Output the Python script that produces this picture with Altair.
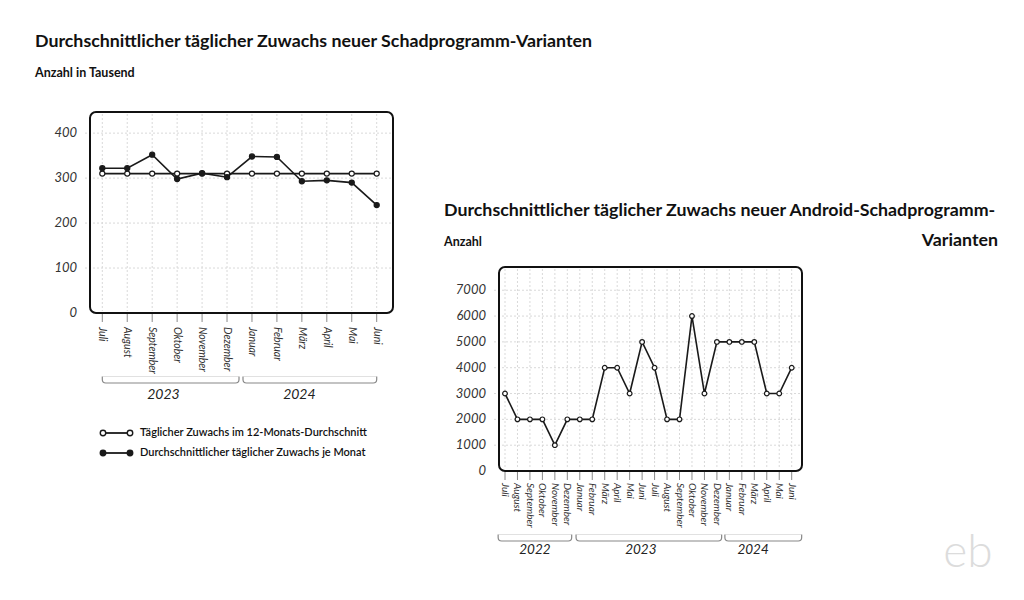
import altair as alt
import pandas as pd

FONT = "Lato"
INK = "#1a1a1a"
GRID = "#d9d9d9"
TICK = "#8a8a8a"

# ---------------- data: left chart (Anzahl in Tausend)
l_months = ["Juli", "August", "September", "Oktober", "November", "Dezember",
            "Januar", "Februar", "März", "April", "Mai", "Juni"]
l_monthly = [322, 322, 352, 298, 311, 302, 348, 347, 293, 295, 290, 240]
l_avg = [310, 310, 310, 310, 310, 310, 310, 310, 310, 310, 310, 310]
l_yticks = [0, 100, 200, 300, 400]
l_years = ["2023", "2024"]
l_year_start = [0.0, 5.64]
l_year_end = [5.48, 11.0]
l_year_label_at = [2.45, 7.9]

# ---------------- data: right chart (Anzahl)
r_months = ["Juli", "August", "September", "Oktober", "November", "Dezember",
            "Januar", "Februar", "März", "April", "Mai", "Juni",
            "Juli", "August", "September", "Oktober", "November", "Dezember",
            "Januar", "Februar", "März", "April", "Mai", "Juni"]
r_values = [3000, 2000, 2000, 2000, 1000, 2000, 2000, 2000, 4000, 4000, 3000, 5000,
            4000, 2000, 2000, 6000, 3000, 5000, 5000, 5000, 5000, 3000, 3000, 4000]
r_yticks = [0, 1000, 2000, 3000, 4000, 5000, 6000, 7000]
r_years = ["2022", "2023", "2024"]
r_year_start = [-0.55, 5.7, 17.64]
r_year_end = [5.35, 17.38, 23.8]
r_year_label_at = [2.4, 10.9, 19.9]

legend_labels = ["Täglicher Zuwachs im 12-Monats-Durchschnitt",
                 "Durchschnittlicher täglicher Zuwachs je Monat"]
legend_filled = [False, True]

ONE = pd.DataFrame({"a": [0]})


def panel(months, series, yticks, ydomain, frame, xrange, label_size, ylabel_x,
          label_y0, br_y, years, ystart, yend, ylab_at, year_y, year_size, pt_size):
    fx0, fx1, fy0, fy1 = frame
    n = len(months)
    df = pd.DataFrame({"i": list(range(n)), "m": months})
    xs = alt.Scale(domain=[0, n - 1], range=xrange, nice=False, zero=False)
    ys = alt.Scale(domain=ydomain, range=[fy1, fy0], nice=False, zero=False)
    dyt = pd.DataFrame({"v": yticks})
    dyr = pd.DataFrame({"y": years, "x0": ystart, "x1": yend, "xl": ylab_at})

    layers = []
    # vertical grid
    layers.append(alt.Chart(df).mark_rule(stroke=GRID, strokeWidth=1, strokeDash=[2, 2]).encode(
        x=alt.X("i:Q", scale=xs, axis=None), y=alt.value(fy0 + 2), y2=alt.value(fy1 - 2)))
    # horizontal grid
    layers.append(alt.Chart(dyt[dyt.v > 0]).mark_rule(stroke=GRID, strokeWidth=1, strokeDash=[2, 2]).encode(
        y=alt.Y("v:Q", scale=ys, axis=None), x=alt.value(fx0 - 5), x2=alt.value(fx1 - 2)))
    # frame
    layers.append(alt.Chart(ONE).mark_rect(fillOpacity=0, stroke="#111", strokeWidth=2, cornerRadius=6).encode(
        x=alt.value(fx0), x2=alt.value(fx1), y=alt.value(fy0), y2=alt.value(fy1)))
    # ticks below frame
    layers.append(alt.Chart(df).mark_rule(stroke=TICK, strokeWidth=1).encode(
        x=alt.X("i:Q", scale=xs, axis=None), y=alt.value(fy1 + 1), y2=alt.value(fy1 + 9)))
    # series
    for vals, filled in series:
        d = pd.DataFrame({"i": list(range(n)), "v": vals})
        layers.append(alt.Chart(d).mark_line(stroke=INK, strokeWidth=1.6).encode(
            x=alt.X("i:Q", scale=xs, axis=None), y=alt.Y("v:Q", scale=ys, axis=None)))
        layers.append(alt.Chart(d).mark_point(shape="circle", filled=True, size=pt_size,
                                              fill=(INK if filled else "white"), stroke=INK,
                                              strokeWidth=1.2, opacity=1).encode(
            x=alt.X("i:Q", scale=xs, axis=None), y=alt.Y("v:Q", scale=ys, axis=None)))
    # year brackets (drawn before the labels)
    bt, bb = br_y
    layers.append(alt.Chart(dyr).mark_rect(fillOpacity=0, stroke="#888", strokeWidth=1.2,
                                           cornerRadiusBottomLeft=6, cornerRadiusBottomRight=6).encode(
        x=alt.X("x0:Q", scale=xs, axis=None), x2="x1", y=alt.value(bt), y2=alt.value(bb)))
    layers.append(alt.Chart(dyr).mark_rule(stroke="white", strokeWidth=3, strokeCap="square").encode(
        x=alt.X("x0:Q", scale=xs, axis=None), x2="x1", y=alt.value(bt - 1)))
    layers.append(alt.Chart(dyr).mark_text(align="center", baseline="middle", font=FONT,
                                           fontStyle="italic", fontSize=year_size, color="#222").encode(
        x=alt.X("xl:Q", scale=xs, axis=None), y=alt.value(year_y), text="y:N"))
    # x labels
    layers.append(alt.Chart(df).mark_text(angle=90, align="left", baseline="middle", font=FONT,
                                          fontStyle="italic", fontSize=label_size, color="#333").encode(
        x=alt.X("i:Q", scale=xs, axis=None), y=alt.value(label_y0), text="m:N"))
    # y labels
    layers.append(alt.Chart(dyt).mark_text(align="right", baseline="middle", font=FONT,
                                           fontStyle="italic", fontSize=13, color="#333").encode(
        y=alt.Y("v:Q", scale=ys, axis=None), x=alt.value(ylabel_x), text=alt.Text("v:Q", format="d")))
    return alt.layer(*layers)


left = panel(l_months, [(l_avg, False), (l_monthly, True)], l_yticks, [0, 447],
             (82, 385, 104, 305), [94.3, 368.7], 10.5, 69, 319, (368, 375),
             l_years, l_year_start, l_year_end, l_year_label_at, 387, 14, 26)

right = panel(r_months, [(r_values, False)], r_yticks, [0, 7900],
              (491, 794, 259, 463), [497, 783.7], 10, 478, 475, (526, 533),
              r_years, r_year_start, r_year_end, r_year_label_at, 542, 13.5, 22)


# legend: one row per series
def legend_row(text, filled, y):
    d = pd.DataFrame({"label": [text]})
    return alt.layer(
        alt.Chart(ONE).mark_rule(stroke=INK, strokeWidth=1.8).encode(
            y=alt.value(y), x=alt.value(95), x2=alt.value(122)),
        alt.Chart(ONE).mark_point(shape="circle", filled=True, size=30, stroke=INK, strokeWidth=1.4,
                                  fill=(INK if filled else "white"), opacity=1).encode(
            y=alt.value(y), x=alt.value(95)),
        alt.Chart(ONE).mark_point(shape="circle", filled=True, size=30, stroke=INK, strokeWidth=1.4,
                                  fill=(INK if filled else "white"), opacity=1).encode(
            y=alt.value(y), x=alt.value(122)),
        alt.Chart(d).mark_text(align="left", baseline="middle", font=FONT, fontSize=11,
                               fontWeight=600, color="#111").encode(
            y=alt.value(y), x=alt.value(132), text="label:N"),
    )


legend = alt.layer(
    legend_row(legend_labels[0], legend_filled[0], 425),
    legend_row(legend_labels[1], legend_filled[1], 445),
)


def label(txt, x, y, size, weight="bold", align="left", color="#111"):
    return alt.Chart(ONE).mark_text(align=align, baseline="middle", font=FONT, fontSize=size,
                                    fontWeight=weight, color=color).encode(
        x=alt.value(x), y=alt.value(y), text=alt.value(txt))


titles = alt.layer(
    label("Durchschnittlicher täglicher Zuwachs neuer Schadprogramm-Varianten", 27, 34, 17.8),
    label("Anzahl in Tausend", 27, 65, 12.5),
    label("Durchschnittlicher täglicher Zuwachs neuer Android-Schadprogramm-", 436, 203, 17.8),
    label("Varianten", 990, 233, 17.8, align="right"),
    label("Anzahl", 436, 234, 12.5),
    label("eb", 960, 545, 46, weight=300, align="center", color="#dcdcdc"),
)

chart = alt.layer(left, right, legend, titles).resolve_scale(
    x="independent", y="independent"
).properties(
    width=1008, height=584, padding=0,
    autosize=alt.AutoSizeParams(type="none"),
    background="white",
).configure_view(stroke=None)

chart.save("out.html", embed_options={"renderer": "svg", "actions": False})
